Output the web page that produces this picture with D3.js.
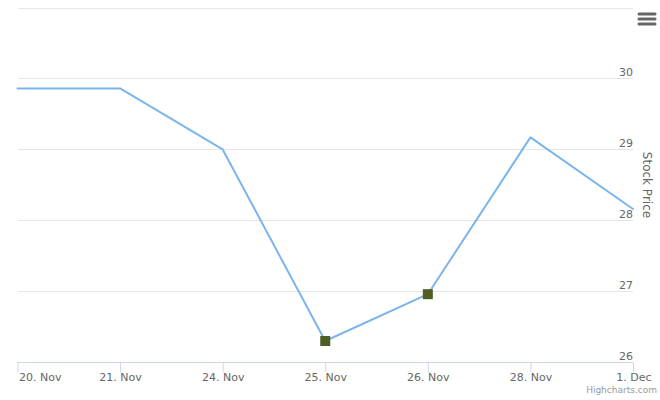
<!DOCTYPE html>
<html><head><meta charset="utf-8">
<script src="https://cdn.jsdelivr.net/npm/d3@7"></script>
<style>body{margin:0;background:#fff;}svg{display:block;font-family:"DejaVu Sans",sans-serif;}</style>
</head><body><div id="chart"></div>
<script>
const categories = ["20. Nov","21. Nov","24. Nov","25. Nov","26. Nov","28. Nov","1. Dec"];
const prices = [29.86, 29.86, 29.0, 26.3, 26.96, 29.17, 28.16];
const markerIdx = [3, 4];
const yTicks = [26, 27, 28, 29, 30, 31];

const W = 660, H = 400;
const m = {left: 17.5, right: 633, top: 7.5, bottom: 362.3};
const svg = d3.select("#chart").append("svg").attr("width", W).attr("height", H);

const x = d3.scalePoint().domain(categories).range([m.left, m.right]);
const y = d3.scaleLinear().domain([26, 31]).range([m.bottom, m.top]);

// grid
svg.append("g").selectAll("line").data(yTicks.filter(d => d > 26)).join("line")
  .attr("x1", 18).attr("x2", m.right)
  .attr("y1", d => Math.round(y(d)) + 0.5).attr("y2", d => Math.round(y(d)) + 0.5)
  .attr("stroke", "#e6e6e6").attr("stroke-width", 1);

// y labels (right side)
svg.append("g").selectAll("text").data(yTicks.filter(d => d < 31)).join("text")
  .attr("x", 633).attr("y", d => y(d) - 2.5)
  .attr("text-anchor", "end").attr("font-size", 11).attr("fill", "#666")
  .text(d => d);

// y title
svg.append("text").attr("transform", "translate(642.5,185) rotate(90)")
  .attr("text-anchor", "middle").attr("font-size", 12).attr("fill", "#666")
  .text("Stock Price");

// x axis
const xAxis = d3.axisBottom(x).tickSize(10).tickPadding(1);
const gx = svg.append("g").attr("transform", `translate(0,${Math.round(m.bottom)+0.5})`).call(xAxis);
gx.select(".domain").attr("stroke", "#ccd6eb").attr("d", `M${m.left},0H${m.right}`);
gx.selectAll(".tick line").attr("stroke", "#ccd6eb");
gx.selectAll(".tick text").attr("fill", "#666").attr("font-size", 11)
  .attr("font-family", "DejaVu Sans, sans-serif");
gx.selectAll(".tick text").each(function(d, i) {
  if (i === 0) d3.select(this).attr("text-anchor", "start").attr("dx", 1);
  if (i === categories.length - 1) d3.select(this).attr("text-anchor", "end").attr("dx", 18);
});

// line
const line = d3.line().x((d, i) => x(categories[i])).y(d => y(d));
svg.append("path").datum(prices).attr("d", line)
  .attr("fill", "none").attr("stroke", "#7cb5ec").attr("stroke-width", 2)
  .attr("stroke-linejoin", "round").attr("stroke-linecap", "round");

// markers
svg.append("g").selectAll("rect").data(markerIdx).join("rect")
  .attr("x", i => x(categories[i]) - 5).attr("y", i => y(prices[i]) - 5)
  .attr("width", 10).attr("height", 10).attr("fill", "#4e5e24");

// menu icon
svg.append("g").selectAll("line").data([14, 19, 24]).join("line")
  .attr("x1", 639).attr("x2", 655).attr("y1", d => d).attr("y2", d => d)
  .attr("stroke", "#666").attr("stroke-width", 3).attr("stroke-linecap", "round");

// credits
svg.append("text").attr("x", 657).attr("y", 393).attr("text-anchor", "end")
  .attr("font-size", 9).attr("fill", "#999").text("Highcharts.com");
</script></body></html>
